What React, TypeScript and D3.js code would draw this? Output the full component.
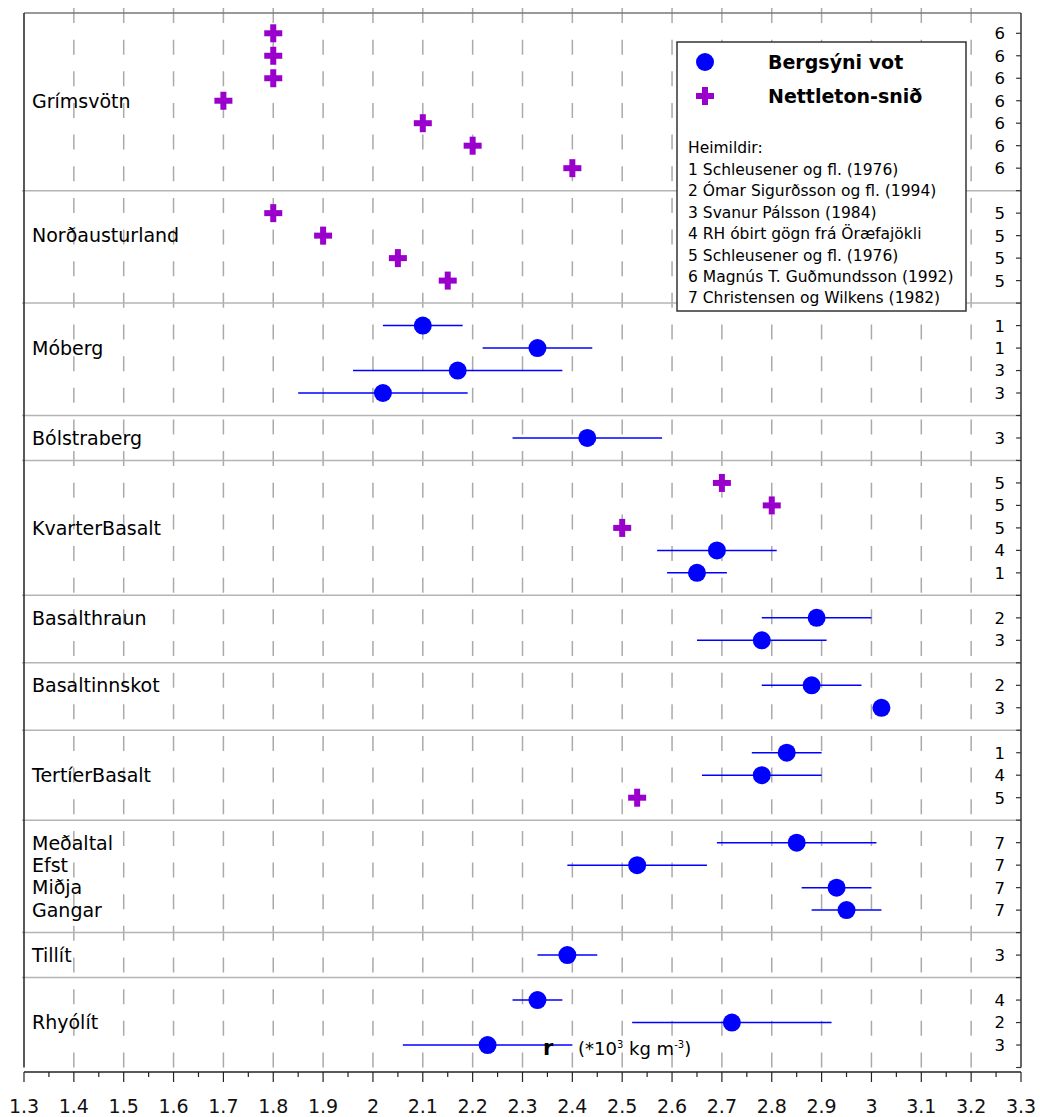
import React from "react";
import * as d3 from "d3";

// groups of rock types, top to bottom
const groupLabels: string[][] = [
  ["Grímsvötn"],
  ["Norðausturland"],
  ["Móberg"],
  ["Bólstraberg"],
  ["KvarterBasalt"],
  ["Basalthraun"],
  ["Basaltinnskot"],
  ["TertíerBasalt"],
  ["Meðaltal", "Efst", "Miðja", "Gangar"],
  ["Tillít"],
  ["Rhyólít"],
];
const groupSizes = [7, 4, 4, 1, 5, 2, 2, 3, 4, 1, 3];

// one entry per row, in drawing order
const density = [
  1.8, 1.8, 1.8, 1.7, 2.1, 2.2, 2.4,
  1.8, 1.9, 2.05, 2.15,
  2.1, 2.33, 2.17, 2.02,
  2.43,
  2.7, 2.8, 2.5, 2.69, 2.65,
  2.89, 2.78,
  2.88, 3.02,
  2.83, 2.78, 2.53,
  2.85, 2.53, 2.93, 2.95,
  2.39,
  2.33, 2.72, 2.23,
];
const errLow: (number | null)[] = [
  null, null, null, null, null, null, null,
  null, null, null, null,
  2.02, 2.22, 1.96, 1.85,
  2.28,
  null, null, null, 2.57, 2.59,
  2.78, 2.65,
  2.78, null,
  2.76, 2.66, null,
  2.69, 2.39, 2.86, 2.88,
  2.33,
  2.28, 2.52, 2.06,
];
const errHigh: (number | null)[] = [
  null, null, null, null, null, null, null,
  null, null, null, null,
  2.18, 2.44, 2.38, 2.19,
  2.58,
  null, null, null, 2.81, 2.71,
  3.0, 2.91,
  2.98, null,
  2.9, 2.9, null,
  3.01, 2.67, 3.0, 3.02,
  2.45,
  2.38, 2.92, 2.4,
];
// B = Bergsýni vot, N = Nettleton-snið
const method = [
  "N", "N", "N", "N", "N", "N", "N",
  "N", "N", "N", "N",
  "B", "B", "B", "B",
  "B",
  "N", "N", "N", "B", "B",
  "B", "B",
  "B", "B",
  "B", "B", "N",
  "B", "B", "B", "B",
  "B",
  "B", "B", "B",
];
const sourceRef = [
  6, 6, 6, 6, 6, 6, 6,
  5, 5, 5, 5,
  1, 1, 3, 3,
  3,
  5, 5, 5, 4, 1,
  2, 3,
  2, 3,
  1, 4, 5,
  7, 7, 7, 7,
  3,
  4, 2, 3,
];

const legendSeries = ["Bergsýni vot", "Nettleton-snið"];
const references = [
  "1 Schleusener og fl. (1976)",
  "2 Ómar Sigurðsson og fl. (1994)",
  "3 Svanur Pálsson (1984)",
  "4 RH óbirt gögn frá Öræfajökli",
  "5 Schleusener og fl. (1976)",
  "6 Magnús T. Guðmundsson (1992)",
  "7 Christensen og Wilkens (1982)",
];

const xTicks = d3.range(13, 34).map((v) => v / 10);
const xMinor = d3.range(13, 33).map((v) => v / 10 + 0.05);

const FONT = "'DejaVu Sans', Verdana, sans-serif";
const BLUE = "#0000ff";
const PURPLE = "#9a00cc";

const Plus = ({ cx, cy }: { cx: number; cy: number }) => (
  <g fill={PURPLE}>
    <rect x={cx - 9} y={cy - 3} width={18} height={6} />
    <rect x={cx - 3} y={cy - 9} width={6} height={18} />
  </g>
);

const App: React.FC = () => {
  const width = 1040;
  const height = 1117;
  const left = 24;
  const right = 1021;
  const top = 13;
  const axisY = 1072;

  const x = d3.scaleLinear().domain([1.3, 3.3]).range([left, right]);
  const y = d3.scaleLinear().domain([0, 47]).range([10.8, 1067.5]);

  // work out slot of each row and of the separators
  const rowSlot: number[] = [];
  const separators: number[] = [];
  const labelSlots: { text: string; slot: number }[] = [];
  let s = 1;
  groupSizes.forEach((n, gi) => {
    for (let i = 0; i < n; i++) rowSlot.push(s + i);
    const lbl = groupLabels[gi];
    if (lbl.length > 1) {
      lbl.forEach((t, i) => labelSlots.push({ text: t, slot: s + i }));
    } else {
      labelSlots.push({ text: lbl[0], slot: s + Math.floor((n - 1) / 2) });
    }
    s += n;
    if (gi < groupSizes.length - 1) separators.push(s);
    s += 1;
  });

  return (
    <svg
      width={width}
      height={height}
      style={{ position: "absolute", left: 0, top: 0, background: "#fff" }}
      fontFamily={FONT}
    >
      {/* dashed grid */}
      {xTicks.slice(1, -1).map((t) => (
        <line
          key={"g" + t}
          x1={x(t)}
          x2={x(t)}
          y1={8}
          y2={y(47)}
          stroke="#aaa"
          strokeWidth={1.5}
          strokeDasharray="15 16.65"
        />
      ))}

      {/* group separators */}
      {separators.map((sl) => (
        <line key={"s" + sl} x1={left - 2} x2={right} y1={y(sl)} y2={y(sl)} stroke="#b4b4b4" strokeWidth={1.5} />
      ))}

      {/* frame */}
      <line x1={left} x2={right} y1={top} y2={top} stroke="#777" strokeWidth={1.5} />
      <line x1={left} x2={left} y1={top} y2={y(47)} stroke="#222" strokeWidth={1.5} />
      <line x1={right} x2={right} y1={top} y2={y(47)} stroke="#333" strokeWidth={1.5} />
      {d3.range(1, 48).map((k) => (
        <line key={"rt" + k} x1={right - 5} x2={right} y1={y(k)} y2={y(k)} stroke="#333" strokeWidth={1.2} />
      ))}

      {/* group labels */}
      {labelSlots.map((l) => (
        <text key={l.text} x={32} y={y(l.slot)} dy="0.36em" fontSize={19} fill="#000">
          {l.text}
        </text>
      ))}

      {/* reference numbers on the right */}
      {sourceRef.map((r, i) => (
        <text key={"r" + i} x={1005} y={y(rowSlot[i])} dy="0.36em" fontSize={16.5} textAnchor="end" fill="#000">
          {r}
        </text>
      ))}

      {/* error bars */}
      {density.map((_, i) =>
        errLow[i] != null && errHigh[i] != null ? (
          <line
            key={"e" + i}
            x1={x(errLow[i] as number)}
            x2={x(errHigh[i] as number)}
            y1={y(rowSlot[i])}
            y2={y(rowSlot[i])}
            stroke={BLUE}
            strokeWidth={1.5}
          />
        ) : null
      )}

      {/* markers */}
      {density.map((v, i) =>
        method[i] === "B" ? (
          <circle key={"c" + i} cx={x(v)} cy={y(rowSlot[i])} r={9} fill={BLUE} />
        ) : (
          <Plus key={"p" + i} cx={x(v)} cy={y(rowSlot[i])} />
        )
      )}

      {/* legend */}
      <g>
        <rect x={677} y={42} width={289} height={269} fill="#fff" stroke="#333" strokeWidth={1.5} />
        <circle cx={705} cy={62} r={9} fill={BLUE} />
        <Plus cx={705} cy={96} />
        <text x={768} y={69} fontSize={19} fontWeight="bold">{legendSeries[0]}</text>
        <text x={768} y={103} fontSize={19} fontWeight="bold">{legendSeries[1]}</text>
        <text x={688} y={153} fontSize={15.5}>Heimildir:</text>
        {references.map((r, i) => (
          <text key={r} x={688} y={175 + i * 21.4} fontSize={15.5}>
            {r}
          </text>
        ))}
      </g>

      {/* x axis */}
      <line x1={left} x2={right} y1={axisY} y2={axisY} stroke="#222" strokeWidth={1.5} />
      {xTicks.map((t) => (
        <g key={"xt" + t}>
          <line x1={x(t)} x2={x(t)} y1={axisY} y2={axisY + 10} stroke="#222" strokeWidth={1.2} />
          <text x={x(t)} y={1113} fontSize={19} textAnchor="middle" fill="#111">
            {String(+t.toFixed(1))}
          </text>
        </g>
      ))}
      {xMinor.map((t) => (
        <line key={"xm" + t} x1={x(t)} x2={x(t)} y1={axisY} y2={axisY + 5} stroke="#222" strokeWidth={1.2} />
      ))}

      {/* axis title */}
      <text x={543} y={1055} fontSize={21} fontWeight="bold">r</text>
      <text x={578} y={1055} fontSize={18}>
        (*10<tspan fontSize={10} dy={-7}>3</tspan>
        <tspan dy={7}> kg m</tspan>
        <tspan fontSize={10} dy={-7}>-3</tspan>
        <tspan dy={7}>)</tspan>
      </text>
    </svg>
  );
};

export default App;
